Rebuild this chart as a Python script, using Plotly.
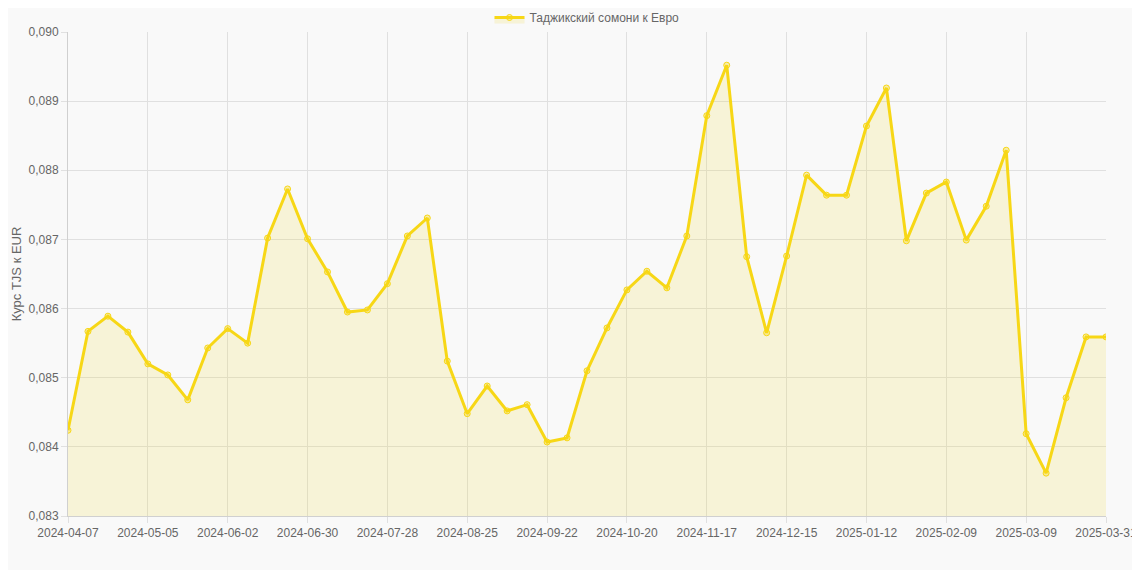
import pandas as pd
import plotly.graph_objects as go

dates = [d.strftime('%Y-%m-%d') for d in pd.date_range('2024-04-07', periods=52, freq='7D')] + ['2025-03-31']
rates = [0.08424, 0.08567, 0.08589, 0.08566, 0.08520, 0.08504, 0.08468, 0.08543, 0.08571, 0.08550,
         0.08702, 0.08773, 0.08701, 0.08653, 0.08595, 0.08598, 0.08636, 0.08705, 0.08731, 0.08524,
         0.08448, 0.08488, 0.08452, 0.08461, 0.08407, 0.08413, 0.08510, 0.08572, 0.08627, 0.08654,
         0.08630, 0.08705, 0.08879, 0.08952, 0.08675, 0.08565, 0.08676, 0.08793, 0.08764, 0.08764,
         0.08864, 0.08919, 0.08698, 0.08767, 0.08783, 0.08699, 0.08748, 0.08829, 0.08419, 0.08362,
         0.08471, 0.08559, 0.08559]

tick_labels = dates[::4] + [dates[-1]]

fig = go.Figure(go.Scatter(
    x=dates, y=rates, mode='lines+markers', name='Таджикский сомони к Евро',
    line=dict(color='#f7d716', width=3),
    marker=dict(size=6, color='rgba(247,215,22,0.35)', line=dict(color='#f7d716', width=1)),
    fill='tozeroy', fillcolor='rgba(240,215,60,0.18)'
))

fig.update_layout(
    width=1140, height=570,
    paper_bgcolor='#f9f9f9', plot_bgcolor='#f9f9f9',
    margin=dict(l=60, r=42, t=24, b=62, autoexpand=False),
    font=dict(family='Liberation Sans, Arial', size=12, color='#666'),
    showlegend=True,
    legend=dict(orientation='h', x=0.5, xanchor='center', y=1.0, yanchor='bottom', font=dict(size=12, color='#666')),
    xaxis=dict(type='category', tickvals=tick_labels, ticktext=tick_labels, showgrid=True,
               gridcolor='#e0e0e0', linecolor='#d0d0d0', ticks='outside', ticklen=6, tickcolor='#e0e0e0',
               range=[0, len(dates) - 1]),
    yaxis=dict(range=[0.083, 0.090], dtick=0.001, tickformat='.3f',
               gridcolor='#e0e0e0', linecolor='#d0d0d0', zeroline=False, ticks='outside', ticklen=6,
               tickcolor='#e0e0e0', title=dict(text='Курс TJS к EUR', font=dict(size=13), standoff=4)),
    separators=', ',
)

fig.write_html("out.html")
